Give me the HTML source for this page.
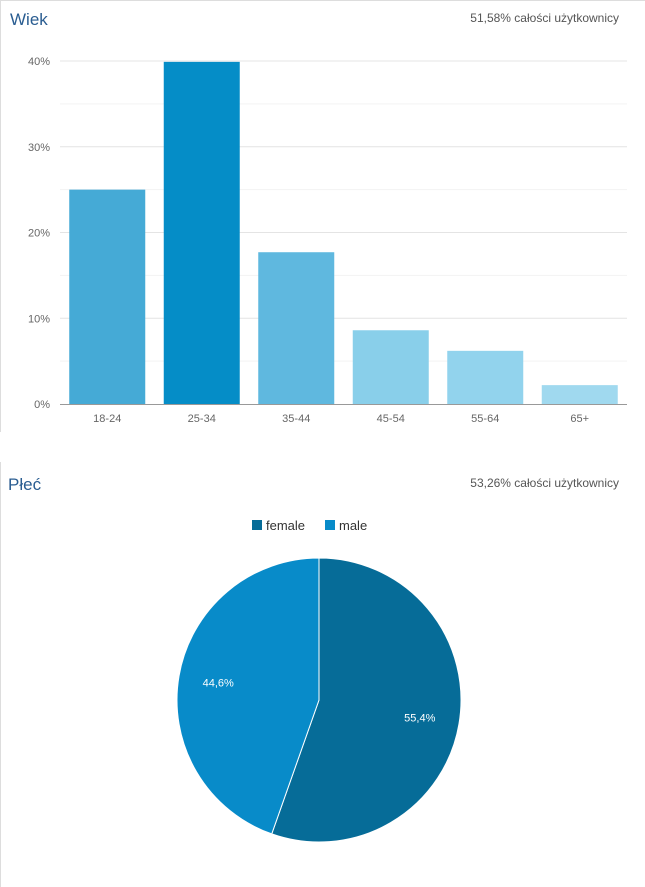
<!DOCTYPE html>
<html><head><meta charset="utf-8">
<style>
body{margin:0;width:645px;height:887px;background:#fff;overflow:hidden;font-family:"Liberation Sans",sans-serif}
svg{display:block}
</style></head><body>
<svg width="645" height="887">
<line x1="0" y1="0.5" x2="645" y2="0.5" stroke="#ddd"/>
<line x1="0.5" y1="0" x2="0.5" y2="432" stroke="#ddd"/>
<line x1="0.5" y1="462" x2="0.5" y2="887" stroke="#ddd"/>
<text x="10" y="25" font-size="17" fill="#2a5d91">Wiek</text>
<text x="619" y="22" font-size="12" fill="#555" text-anchor="end">51,58% całości użytkownicy</text>
<g id="bars"></g>
<text x="8" y="490" font-size="17" fill="#2a5d91">Płeć</text>
<text x="619" y="487" font-size="12" fill="#555" text-anchor="end">53,26% całości użytkownicy</text>
<g>
<rect x="252" y="520" width="10" height="10" fill="#066c98"/>
<text x="266" y="530" font-size="13" fill="#333">female</text>
<rect x="325" y="520" width="10" height="10" fill="#088bc9"/>
<text x="339" y="530" font-size="13" fill="#333">male</text>
</g>
<g id="pie"></g>
</svg>
<script>
const categories=["18-24","25-34","35-44","45-54","55-64","65+"];
const values=[25.0,39.9,17.7,8.6,6.2,2.2];
const barColors=["#45aad6","#058dc7","#5fb8df","#89cfea","#92d3ed","#a0d9ef"];
const yTicks=[0,10,20,30,40];
const pieLabels=["female","male"];
const pieValues=[55.4,44.6];
const pieText=["55,4%","44,6%"];
const pieColors=["#066c98","#088bc9"];
const NS="http://www.w3.org/2000/svg";
function mk(p,t,a){const e=document.createElementNS(NS,t);for(const k in a)e.setAttribute(k,a[k]);p.appendChild(e);return e;}
const g=document.getElementById('bars');
const x0=60,x1=627,y0=404,pxPer=(404-61)/40;
const y=v=>y0-v*pxPer;
for(let t=5;t<=40;t+=5){
 const l=mk(g,'line',{x1:x0,x2:x1,y1:y(t),y2:y(t),stroke:t%10?'#f3f3f3':'#e4e4e4'});
 
 
}
yTicks.forEach(t=>{
 const tx=mk(g,'text',{x:50,y:y(t)+4,'font-size':11,fill:'#666','text-anchor':'end'});
 tx.textContent=t+'%';
 
 
});
const band=(x1-x0)/categories.length,bw=76;
categories.forEach((c,i)=>{
 const cx=x0+band*(i+0.5);
 const r=mk(g,'rect',{x:cx-bw/2,y:y(values[i]),width:bw,height:y0-y(values[i]),fill:barColors[i]});
 
 
 const tx=mk(g,'text',{x:cx,y:422,'font-size':11,fill:'#666','text-anchor':'middle'});
 tx.textContent=c;
 
 
});
const ax=mk(g,'line',{x1:x0,x2:x1,y1:y0+0.5,y2:y0+0.5,stroke:'#999'});


const pg=document.getElementById('pie');
const cx=319,cy=700,R=142;
const tot=pieValues.reduce((a,b)=>a+b,0);
let a=0;
pieValues.forEach((v,i)=>{
 const a2=a+v/tot*2*Math.PI;
 const p=(t)=>[cx+R*Math.sin(t),cy-R*Math.cos(t)];
 const [sx,sy]=p(a),[ex,ey]=p(a2);
 const large=(a2-a)>Math.PI?1:0;
 const s=mk(pg,'path',{d:`M${cx},${cy}L${sx},${sy}A${R},${R} 0 ${large} 1 ${ex},${ey}Z`,fill:pieColors[i],stroke:'#fff','stroke-width':1});
 
 
 const m=(a+a2)/2,lr=R*0.72;
 const tx=mk(pg,'text',{x:cx+lr*Math.sin(m),y:cy-lr*Math.cos(m)+4,'font-size':11,fill:'#fff','text-anchor':'middle'});
 tx.textContent=pieText[i];
 
 
 a=a2;
});
</script>
</body></html>
